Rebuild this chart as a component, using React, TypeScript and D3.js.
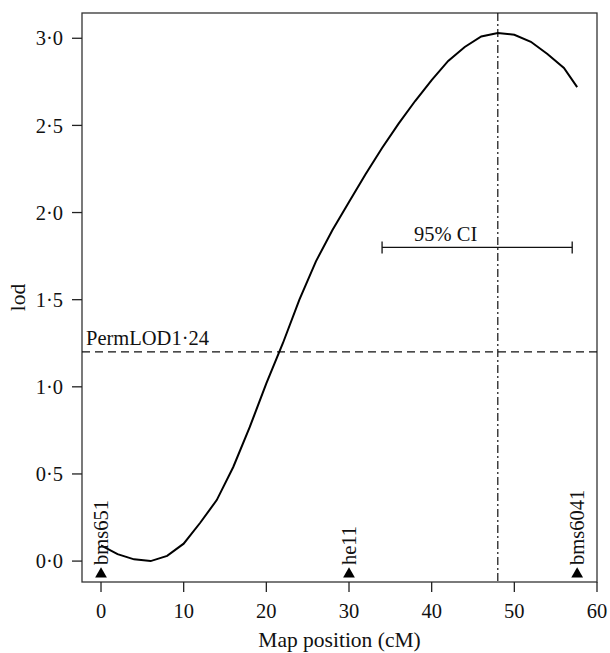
import React from 'react';
import * as d3 from 'd3';

// LOD profile along the chromosome (cM, lod)
const positions = [0, 2, 4, 6, 8, 10, 12, 14, 16, 18, 20, 22, 24, 26, 28, 30, 32, 34, 36, 38, 40, 42, 44, 46, 48, 50, 52, 54, 56, 57.6];
const lodValues = [0.09, 0.04, 0.01, 0.0, 0.03, 0.1, 0.22, 0.35, 0.54, 0.77, 1.02, 1.25, 1.5, 1.72, 1.9, 2.06, 2.22, 2.37, 2.51, 2.64, 2.76, 2.87, 2.95, 3.01, 3.03, 3.02, 2.98, 2.91, 2.83, 2.72];

const markerNames = ['bms651', 'he11', 'bms6041'];
const markerPositions = [0, 30, 57.6];

const xTicks = [0, 10, 20, 30, 40, 50, 60];
const yTicks = [0, 0.5, 1, 1.5, 2, 2.5, 3];

const permLod = 1.2;
const permLabel = 'PermLOD1·24';
const peakPos = 48;
const ciRange = [34, 57];
const ciLevel = 1.8;

const W = 610;
const H = 653;
const margin = { top: 13, right: 13, bottom: 71, left: 82 };
const txt = { fontFamily: "'Liberation Serif', 'Times New Roman', Times, serif", fontSize: '20.5px', fill: '#111' };

export default function App() {
  const innerW = W - margin.left - margin.right;
  const innerH = H - margin.top - margin.bottom;

  const x = d3.scaleLinear().domain([-2.3, 60]).range([0, innerW]);
  const y = d3.scaleLinear().domain([-0.12, 3.145]).range([innerH, 0]);

  const points = positions.map((p, i) => [p, lodValues[i]] as [number, number]);
  const line = d3.line<[number, number]>()
    .x(d => x(d[0]))
    .y(d => y(d[1]));

  const fmt = (v: number) => v.toFixed(1).replace('.', '·');
  const tri = d3.symbol().type(d3.symbolTriangle).size(60)();
  const markerY = innerH - 9;

  return (
    <div style={{ position: 'absolute', left: 0, top: 0 }}>
      <svg width={W} height={H} style={{ display: 'block', background: '#fff' }}>
        <g transform={`translate(${margin.left},${margin.top})`}>
          {/* Frame */}
          <rect x={0} y={0} width={innerW} height={innerH} fill="none" stroke="#333" strokeWidth={1.3} />

          {/* Y axis */}
          {yTicks.map(t => (
            <g key={t} transform={`translate(0,${y(t)})`}>
              <line x1={-10} x2={0} stroke="#222" strokeWidth={1.3} />
              <text x={-19} dy="0.35em" textAnchor="end" style={txt}>{fmt(t)}</text>
            </g>
          ))}

          {/* X axis */}
          {xTicks.map(t => (
            <g key={t} transform={`translate(${x(t)},${innerH})`}>
              <line y1={0} y2={10} stroke="#222" strokeWidth={1.3} />
              <text y={36} textAnchor="middle" style={txt}>{t}</text>
            </g>
          ))}

          {/* Permutation threshold */}
          <line x1={0} x2={innerW} y1={y(permLod)} y2={y(permLod)} stroke="#111" strokeWidth={1.3} strokeDasharray="8,5" />
          <text x={4} y={y(permLod) - 7} style={txt}>{permLabel}</text>

          {/* Peak position */}
          <line x1={x(peakPos)} x2={x(peakPos)} y1={0} y2={innerH} stroke="#111" strokeWidth={1.2} strokeDasharray="8,3,2,3" />

          {/* Confidence interval */}
          <line x1={x(ciRange[0])} x2={x(ciRange[1])} y1={y(ciLevel)} y2={y(ciLevel)} stroke="#111" strokeWidth={1.3} />
          {ciRange.map(c => (
            <line key={c} x1={x(c)} x2={x(c)} y1={y(ciLevel) - 6} y2={y(ciLevel) + 6} stroke="#111" strokeWidth={1.3} />
          ))}
          <text x={x(41.7)} y={y(ciLevel) - 6} textAnchor="middle" style={txt}>95% CI</text>

          {/* LOD curve */}
          <path d={line(points) || ''} fill="none" stroke="#000" strokeWidth={2} />

          {/* Markers */}
          {markerNames.map((m, i) => (
            <g key={m} transform={`translate(${x(markerPositions[i])},${markerY})`}>
              <path d={tri || ''} fill="#000" transform="translate(0,1)" />
              <text transform="rotate(-90)" x={8} dy="0.35em" style={txt}>{m}</text>
            </g>
          ))}
        </g>

        {/* Axis titles */}
        <text x={margin.left + innerW / 2} y={H - 6} textAnchor="middle" style={{ ...txt, fontSize: '21.5px' }}>Map position (cM)</text>
        <text transform={`translate(25,${margin.top + innerH / 2}) rotate(-90)`} textAnchor="middle" style={{ ...txt, fontSize: '21.5px' }}>lod</text>
      </svg>
    </div>
  );
}
